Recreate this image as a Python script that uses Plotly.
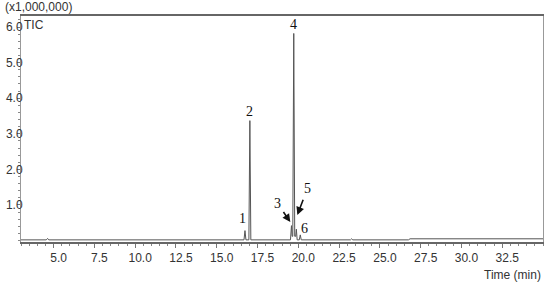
import plotly.graph_objects as go

# chromatogram trace (TIC, x1,000,000 counts)
time_min = [3.0, 4.55, 4.63, 4.7, 16.67, 16.73, 16.79, 16.97, 17.03, 17.09,
            19.52, 19.58, 19.62, 19.66, 19.72, 19.78, 19.84, 19.88, 19.93,
            20.06, 20.12, 20.18, 23.2, 23.27, 23.34, 26.75, 26.85, 35.0]
tic = [0.02, 0.02, 0.06, 0.02, 0.02, 0.28, 0.02, 0.02, 3.37, 0.02,
       0.02, 0.42, 0.12, 0.12, 5.82, 0.12, 0.12, 0.32, 0.02,
       0.02, 0.16, 0.02, 0.02, 0.05, 0.02, 0.02, 0.05, 0.05]

# peak labels: number, label position (min, x1e6)
peak_ids = ["1", "2", "4", "6"]
peak_lab_t = [16.59, 17.01, 19.70, 20.40]
peak_lab_y = [0.63, 3.64, 6.06, 0.35]

# arrowed labels: number, arrow tip (min, x1e6), text offset (px)
arrow_ids = ["3", "5"]
arrow_t = [19.51, 19.94]
arrow_y = [0.52, 0.72]
arrow_dx = [-13, 10]
arrow_dy = [-19, -26]

y_ticks = [1, 2, 3, 4, 5, 6]
y_tick_text = ["1.0", "2.0", "3.0", "4.0", "5.0", "6.0"]
x_ticks = [5.0, 7.5, 10.0, 12.5, 15.0, 17.5, 20.0, 22.5, 25.0, 27.5, 30.0, 32.5]
x_tick_text = ["5.0", "7.5", "10.0", "12.5", "15.0", "17.5", "20.0", "22.5",
               "25.0", "27.5", "30.0", "32.5"]

fig = go.Figure()
fig.add_trace(go.Scatter(x=time_min, y=tic, mode="lines",
                         line=dict(color="#555555", width=1), hoverinfo="skip"))

serif = dict(family="Liberation Serif", size=14, color="#111111")
for pid, t, v in zip(peak_ids, peak_lab_t, peak_lab_y):
    fig.add_annotation(x=t, y=v, text=pid, showarrow=False, font=serif)
for pid, t, v, dx, dy in zip(arrow_ids, arrow_t, arrow_y, arrow_dx, arrow_dy):
    fig.add_annotation(x=t, y=v, text=pid, font=serif, showarrow=True,
                       ax=dx, ay=dy, arrowhead=2, arrowsize=1, arrowwidth=1.6,
                       arrowcolor="#111111", standoff=0, startstandoff=2)

sans = dict(family="Liberation Sans", size=12, color="#333333")
fig.add_annotation(xref="paper", yref="paper", x=-0.034, y=1.0, xanchor="left",
                   yanchor="bottom", text="(x1,000,000)", showarrow=False, font=sans)
fig.add_annotation(xref="paper", yref="paper", x=0.002, y=1.0, xanchor="left",
                   yanchor="top", text="TIC", showarrow=False, font=sans)
fig.add_annotation(xref="paper", yref="paper", x=1.0, y=-0.105, xanchor="right",
                   yanchor="top", text="Time (min)", showarrow=False, font=sans)

fig.update_xaxes(range=[3.0, 35.0], tickvals=x_ticks, ticktext=x_tick_text,
                 ticks="outside", ticklen=4, tickcolor="#777777",
                 minor=dict(dtick=0.5, ticks="outside", ticklen=2, tickcolor="#888888"),
                 showline=True, linecolor="#666666", linewidth=2, mirror=True,
                 showgrid=False, zeroline=False, tickfont=sans, ticklabelshift=5)
fig.update_yaxes(range=[-0.04, 6.31], tickvals=y_ticks, ticktext=y_tick_text,
                 ticks="outside", ticklen=3, tickcolor="#777777",
                 minor=dict(dtick=0.2, ticks="outside", ticklen=2, tickcolor="#888888"),
                 showline=True, linecolor="#999999", linewidth=1, mirror=True,
                 showgrid=False, zeroline=False, tickfont=sans, ticklabelstandoff=-8)

fig.update_layout(width=550, height=285, margin=dict(l=19, r=6, t=16, b=43),
                  paper_bgcolor="white", plot_bgcolor="white", showlegend=False)

# drop the default page margin so the figure sits at the window's corner
fig.write_html("out.html", config={"displayModeBar": False},
               post_script="document.body.style.margin='0';")
